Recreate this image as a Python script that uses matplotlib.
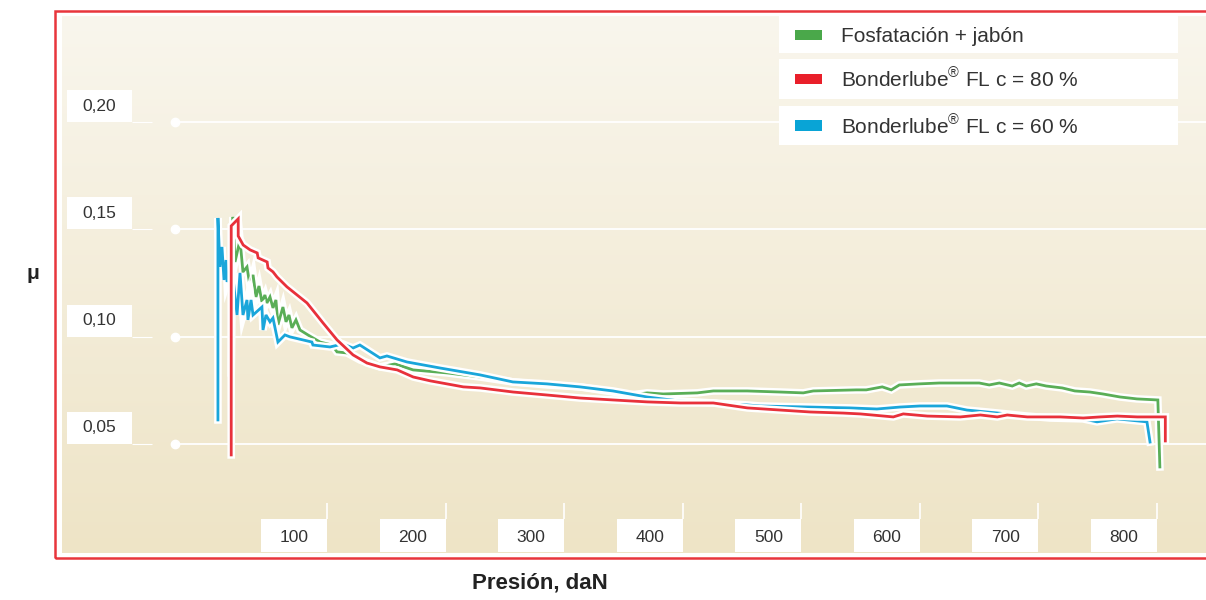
import numpy as np
import matplotlib.pyplot as plt
import matplotlib.patheffects as pe
from matplotlib.patches import Rectangle

plt.rcParams['font.family'] = ['Liberation Sans', 'DejaVu Sans']
plt.rcParams['mathtext.fontset'] = 'custom'
plt.rcParams['mathtext.rm'] = 'Liberation Sans'

W, H = 1206, 600

# ---- data ----
fosf_x = [47.1, 48.6, 50.3, 54.5, 57.0, 60.4, 63.0, 65.5, 68.0, 70.5, 73.0, 75.5, 77.2,
          79.8, 82.3, 84.8, 86.5, 90.7, 93.3, 95.8, 98.3, 101.7, 105.1, 111.8, 122.0,
          132.1, 136.3, 144.8, 155.8, 172.6, 185.3, 200.5, 229.2, 257.0, 284.8, 313.5,
          341.3, 369.1, 383.6, 397.9, 411.4, 440.1, 453.6, 482.3, 510.1, 529.5, 537.9,
          574.2, 582.6, 596.1, 603.7, 610.5, 627.3, 644.2, 677.9, 686.3, 694.8, 705.7,
          711.6, 717.5, 726.0, 734.4, 747.9, 758.5, 771.2, 782.1, 796.5, 810.8, 828.5,
          830.2]
fosf_y = [0.0831, 0.1558, 0.1348, 0.1451, 0.1302, 0.1325, 0.1232, 0.1288, 0.1185, 0.1236,
          0.1162, 0.1194, 0.1157, 0.1185, 0.1134, 0.1171, 0.1055, 0.1138, 0.1069, 0.1101,
          0.1041, 0.1078, 0.1031, 0.1008, 0.0975, 0.0961, 0.0929, 0.0924, 0.0891, 0.0859,
          0.0873, 0.0845, 0.0831, 0.0812, 0.0789, 0.0775, 0.0766, 0.0742, 0.0728, 0.0738,
          0.0733, 0.0738, 0.0747, 0.0747, 0.0742, 0.0738, 0.0747, 0.0752, 0.0752, 0.0766,
          0.0752, 0.0775, 0.0780, 0.0784, 0.0784, 0.0775, 0.0784, 0.0770, 0.0784, 0.0770,
          0.0780, 0.0770, 0.0761, 0.0747, 0.0742, 0.0733, 0.0719, 0.0710, 0.0705, 0.0393]

b80_x = [47.1, 47.1, 50.5, 53.0, 53.0, 57.2, 63.1, 69.0, 69.8, 77.4, 78.1, 82.3, 85.7,
         94.1, 111.0, 124.5, 136.3, 149.8, 161.6, 172.6, 187.1, 200.6, 215.0, 242.8,
         257.1, 284.9, 313.6, 341.4, 369.3, 397.9, 425.8, 453.6, 482.3, 510.1, 535.4,
         563.2, 577.6, 605.4, 613.8, 634.1, 661.9, 678.8, 693.1, 701.5, 718.4, 746.2,
         765.6, 779.9, 794.3, 811.1, 828.0, 834.8, 834.8]
b80_y = [0.0449, 0.1516, 0.1535, 0.1549, 0.1469, 0.1427, 0.1404, 0.1390, 0.1367, 0.1348,
         0.1320, 0.1302, 0.1278, 0.1232, 0.1157, 0.1064, 0.0985, 0.0915, 0.0877, 0.0859,
         0.0845, 0.0812, 0.0794, 0.0766, 0.0761, 0.0742, 0.0728, 0.0714, 0.0705, 0.0696,
         0.0691, 0.0691, 0.0668, 0.0658, 0.0649, 0.0644, 0.0640, 0.0626, 0.0640, 0.0630,
         0.0626, 0.0635, 0.0626, 0.0635, 0.0626, 0.0626, 0.0621, 0.0626, 0.0630, 0.0626,
         0.0626, 0.0626, 0.0514]

b60_x = [35.9, 35.9, 37.6, 39.3, 41.0, 42.7, 43.6, 46.0, 48.6, 52.0, 54.5, 57.0, 60.4,
         61.2, 63.8, 65.5, 73.0, 73.9, 76.4, 79.8, 82.3, 86.5, 92.4, 96.6, 115.1, 116.0,
         130.4, 141.3, 149.8, 155.6, 172.5, 178.4, 195.3, 223.1, 256.8, 284.6, 313.3,
         341.1, 369.0, 397.6, 425.5, 453.3, 482.0, 493.0, 535.1, 568.8, 591.6, 611.0,
         627.9, 650.6, 667.5, 684.4, 701.2, 718.1, 737.5, 765.3, 777.2, 794.0, 819.3,
         821.9]
b60_y = [0.0612, 0.1553, 0.1325, 0.1418, 0.1264, 0.1357, 0.1255, 0.1297, 0.1274, 0.1101,
         0.1297, 0.1101, 0.1171, 0.1078, 0.1171, 0.1101, 0.1138, 0.1031, 0.1101, 0.1069,
         0.1087, 0.0975, 0.1008, 0.0999, 0.0975, 0.0961, 0.0952, 0.0966, 0.0947, 0.0961,
         0.0901, 0.0910, 0.0882, 0.0854, 0.0822, 0.0789, 0.0780, 0.0766, 0.0747, 0.0719,
         0.0700, 0.0691, 0.0682, 0.0677, 0.0672, 0.0668, 0.0663, 0.0672, 0.0677, 0.0677,
         0.0658, 0.0649, 0.0640, 0.0630, 0.0621, 0.0617, 0.0603, 0.0617, 0.0603, 0.0509]

series_names = ["Fosfatación + jabón", "Bonderlube® FL c = 80 %", "Bonderlube® FL c = 60 %"]
line_colors = ["#5aae57", "#e8313b", "#1aa6da"]
legend_colors = ["#4aa84a", "#e91f2a", "#09a4d6"]

y_ticks = [0.05, 0.10, 0.15, 0.20]
y_labels = ["0,05", "0,10", "0,15", "0,20"]
x_ticks = [100, 200, 300, 400, 500, 600, 700, 800]
x_labels = ["100", "200", "300", "400", "500", "600", "700", "800"]

# ---- layout helpers (pixel -> figure fraction) ----
def fx(px):
    return px / W

def fy(py):
    return 1 - py / H

fig = plt.figure(figsize=(W / 100, H / 100), dpi=100)
fig.patch.set_facecolor("white")

XMIN, XMAX = -95.6, 869.1
YMIN, YMAX = -0.0008, 0.2494
ax = fig.add_axes([fx(62), fy(553), fx(1206) - fx(62), fy(16) - fy(553)])
ax.set_xlim(XMIN, XMAX)
ax.set_ylim(YMIN, YMAX)
ax.axis("off")

# beige vertical gradient
top = np.array([249, 246, 237]) / 255
bot = np.array([238, 228, 198]) / 255
t = np.linspace(0, 1, 256)[:, None]
grad = (top * (1 - t) + bot * t)[:, None, :]
ax.imshow(grad, extent=[XMIN, XMAX, YMIN, YMAX], aspect="auto", zorder=0,
          interpolation="bilinear")

px_x = (XMAX - XMIN) / (1206 - 62)   # data units per pixel
px_y = (YMAX - YMIN) / (553 - 16)

# y grid + labels
for yv, lab in zip(y_ticks, y_labels):
    ax.hlines(yv, 0, XMAX, color="white", lw=1.3, zorder=1)
    ax.plot([0], [yv], "o", color="white", ms=6, zorder=1)
    ax.hlines(yv, XMIN + 70 * px_x, XMIN + 90 * px_x, color="white", lw=0.8, zorder=1)
    ax.add_patch(Rectangle((XMIN + 5 * px_x, yv), 65 * px_x, 32 * px_y,
                           facecolor="white", edgecolor="none", zorder=2))
    ax.text(XMIN + 37.5 * px_x, yv + 16 * px_y, lab, ha="center", va="center",
            fontsize=12.5, color="#333333", zorder=3)

# x label boxes
for xv, lab in zip(x_ticks, x_labels):
    ax.add_patch(Rectangle((xv - 33 * px_x, YMIN + 1 * px_y), 66 * px_x, 33 * px_y,
                           facecolor="white", edgecolor="none", zorder=2))
    ax.vlines(xv + 33 * px_x, YMIN + 34 * px_y, YMIN + 50 * px_y, color="white",
              lw=1.2, zorder=1)
    ax.text(xv, YMIN + 16 * px_y, lab, ha="center", va="center", fontsize=12.5,
            color="#333333", zorder=3)

# curves
stroke = [pe.Stroke(linewidth=5.5, foreground="white"), pe.Normal()]
for xs, ys, c in [(fosf_x, fosf_y, line_colors[0]),
                  (b60_x, b60_y, line_colors[2]),
                  (b80_x, b80_y, line_colors[1])]:
    ax.plot(xs, ys, color=c, lw=2.0, zorder=5, path_effects=stroke,
            solid_joinstyle="miter")

# legend boxes (drawn on the figure)
rows = [(16, 53), (59, 99), (106, 145)]
for (y0, y1), name, c in zip(rows, series_names, legend_colors):
    fig.add_artist(Rectangle((fx(779), fy(y1)), fx(1178) - fx(779), fy(y0) - fy(y1),
                             transform=fig.transFigure, facecolor="white",
                             edgecolor="none", zorder=6))
    yc = (y0 + y1) / 2
    fig.add_artist(Rectangle((fx(795), fy(yc + 5)), fx(822) - fx(795), fy(yc - 5) - fy(yc + 5),
                             transform=fig.transFigure, facecolor=c,
                             edgecolor="none", zorder=7))
    label = name.replace("®", r"$^{\mathrm{®}}$")
    fig.text(fx(841), fy(yc + 8), label, ha="left", va="baseline", fontsize=15,
             color="#333333", zorder=8)

# axis titles
fig.text(fx(33), fy(273), "μ", ha="center", va="center", fontsize=15,
         fontweight="bold", color="#222222")
fig.text(fx(540), fy(583), "Presión, daN", ha="center", va="center", fontsize=16,
         fontweight="bold", color="#222222")

# red frame
fig.add_artist(Rectangle((fx(55), fy(558)), fx(1215) - fx(55), fy(11) - fy(558),
                         transform=fig.transFigure, facecolor="none",
                         edgecolor="#e8353c", lw=1.8, zorder=10))

fig.savefig("out.png", dpi=100, facecolor="white")
